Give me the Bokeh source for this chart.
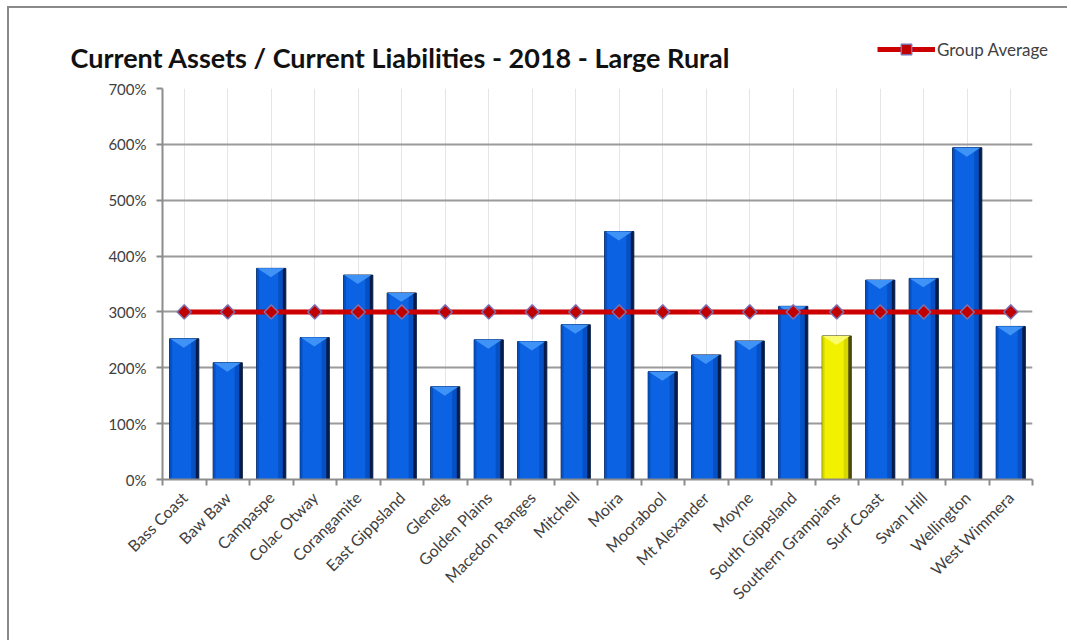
from bokeh.plotting import figure
from bokeh.models import (FactorRange, Range1d, LinearAxis, CategoricalAxis, FixedTicker,
                          PrintfTickFormatter, Legend, LegendItem, ColumnDataSource, Grid,
                          CustomJSTickFormatter, Label)
from bokeh.transform import dodge
from bokeh.embed import file_html
from bokeh.resources import INLINE
from math import pi

# ---- data ----
councils = ["Bass Coast", "Baw Baw", "Campaspe", "Colac Otway", "Corangamite",
            "East Gippsland", "Glenelg", "Golden Plains", "Macedon Ranges", "Mitchell",
            "Moira", "Moorabool", "Mt Alexander", "Moyne", "South Gippsland",
            "Southern Grampians", "Surf Coast", "Swan Hill", "Wellington", "West Wimmera"]
ratio_pct = [252, 209, 378, 254, 366, 334, 166, 250, 247, 277,
             444, 193, 223, 248, 310, 257, 357, 360, 594, 274]
group_avg_pct = [300, 300, 300, 300, 300, 300, 300, 300, 300, 300,
                 300, 300, 300, 300, 300, 300, 300, 300, 300, 300]
highlight = "Southern Grampians"
y_ticks = [0, 100, 200, 300, 400, 500, 600, 700]
title_text = "Current Assets / Current Liabilities - 2018 - Large Rural"
legend_label = "Group Average"

W = 1060
TOP_H, MAIN_H = 69, 565
FONT = "Lato"
LINE_COLOR, MARK_FILL, MARK_LINE = "#cc0000", "#c00000", "#7b6fb0"
BORDER = "2px solid #8a8a8a"

avg_src = ColumnDataSource(dict(council=councils, avg=group_avg_pct))

# ---------------- header strip: title + legend ----------------
# (its y range is far below the data, so the series only feeds the legend swatch here)
top = figure(width=W, height=TOP_H, x_range=FactorRange(*councils, range_padding=0),
             y_range=Range1d(0, 1), output_backend="svg", toolbar_location=None,
             title_location=None, x_axis_location=None, y_axis_location=None,
             min_border_left=0, min_border_right=0, min_border_top=0, min_border_bottom=0)
top.outline_line_color = None
top.xgrid.visible = False
top.ygrid.visible = False
top.styles = {"margin-left": "7px", "margin-top": "6px", "border-top": BORDER, "border-left": BORDER}
top.add_layout(Label(x=61, y=20, x_units="screen", y_units="screen", text=title_text,
                     text_font=FONT, text_font_size="27px", text_font_style="bold",
                     text_color="#111111", text_baseline="middle", text_align="left"))
leg_line = top.line("council", "avg", source=avg_src, line_color=LINE_COLOR, line_width=5)
leg_mark = top.scatter("council", "avg", source=avg_src, marker="square", angle=pi / 4, size=9,
                       fill_color=MARK_FILL, line_color=MARK_LINE, line_width=1.5)
legend = Legend(items=[LegendItem(label=legend_label, renderers=[leg_line, leg_mark])],
                location=(868, 15), padding=0, margin=0, border_line_color=None,
                background_fill_alpha=0, glyph_width=58, glyph_height=26, label_standoff=2,
                label_text_font=FONT, label_text_font_size="17px", label_text_color="#404040")
top.add_layout(legend, "center")

# ---------------- main chart ----------------
p = figure(width=W, height=MAIN_H, x_range=FactorRange(*councils, range_padding=0),
           y_range=Range1d(0, 700), output_backend="svg", toolbar_location=None,
           title_location=None, x_axis_location=None, y_axis_location=None,
           min_border_left=153, min_border_right=37, min_border_top=13, min_border_bottom=161)
p.outline_line_color = None
p.background_fill_color = "white"
p.border_fill_color = "white"
p.styles = {"margin-left": "7px", "border-left": BORDER}

yaxis = LinearAxis(ticker=FixedTicker(ticks=y_ticks), formatter=PrintfTickFormatter(format="%d%%"))
yaxis.axis_line_color = "#8c8c8c"
yaxis.axis_line_width = 2
yaxis.major_tick_line_color = "#8c8c8c"
yaxis.major_tick_line_width = 2
yaxis.major_tick_out = 6
yaxis.major_tick_in = 0
yaxis.minor_tick_line_color = None
yaxis.major_label_text_font = FONT
yaxis.major_label_text_font_size = "15px"
yaxis.major_label_text_color = "#404040"
yaxis.major_label_standoff = 10
p.add_layout(yaxis, "left")
p.add_layout(Grid(dimension=1, ticker=yaxis.ticker, grid_line_color="#9a9a9a",
                  grid_line_width=2), "center")

# tick marks between categories, on the same factor range
tick_axis = LinearAxis(ticker=FixedTicker(ticks=list(range(len(councils) + 1))),
                       formatter=CustomJSTickFormatter(code="return ''"))
tick_axis.axis_line_color = "#8c8c8c"
tick_axis.axis_line_width = 2
tick_axis.major_tick_line_color = "#8c8c8c"
tick_axis.major_tick_line_width = 2
tick_axis.major_tick_out = 6
tick_axis.major_tick_in = 0
tick_axis.minor_tick_line_color = None
tick_axis.major_label_text_font_size = "1px"
tick_axis.major_label_standoff = 0
p.add_layout(tick_axis, "below")

xaxis = CategoricalAxis()
xaxis.axis_line_color = None
xaxis.major_tick_line_color = None
xaxis.major_label_orientation = pi / 4
xaxis.major_label_text_font = FONT
xaxis.major_label_text_font_size = "16px"
xaxis.major_label_text_color = "#404040"
xaxis.major_label_standoff = 3
p.add_layout(xaxis, "below")

# bars (layered to suggest the bevelled look)
is_hi = [c == highlight for c in councils]
src = ColumnDataSource(dict(
    council=councils, ratio=ratio_pct,
    edge=["#4a4a00" if h else "#051c48" for h in is_hi],
    body=["#d6d600" if h else "#0650c4" for h in is_hi],
    shine=["#f2f200" if h else "#0b63e3" for h in is_hi],
    bevel=["#fbfb70" if h else "#3f93f7" for h in is_hi],
))
p.vbar(x="council", top="ratio", width=0.67, source=src, fill_color="edge", line_color="edge")
p.vbar(x=dodge("council", -0.035, range=p.x_range), top="ratio", width=0.60, source=src,
       fill_color="body", line_color=None)
p.vbar(x=dodge("council", -0.06, range=p.x_range), top="ratio", width=0.44, source=src,
       fill_color="shine", line_color=None)
bevel_src = ColumnDataSource(dict(
    xs=[[(c, -0.32), (c, 0.30), (c, -0.01)] for c in councils],
    ys=[[v, v, v - 16] for v in ratio_pct],
    color=src.data["bevel"],
))
p.patches("xs", "ys", source=bevel_src, fill_color="color", line_color=None)

# group average
p.line("council", "avg", source=avg_src, line_color=LINE_COLOR, line_width=5)
p.scatter("council", "avg", source=avg_src, marker="square", angle=pi / 4, size=10,
          fill_color=MARK_FILL, line_color=MARK_LINE, line_width=1.5)

open("out.html", "w").write(file_html([top, p], INLINE))
